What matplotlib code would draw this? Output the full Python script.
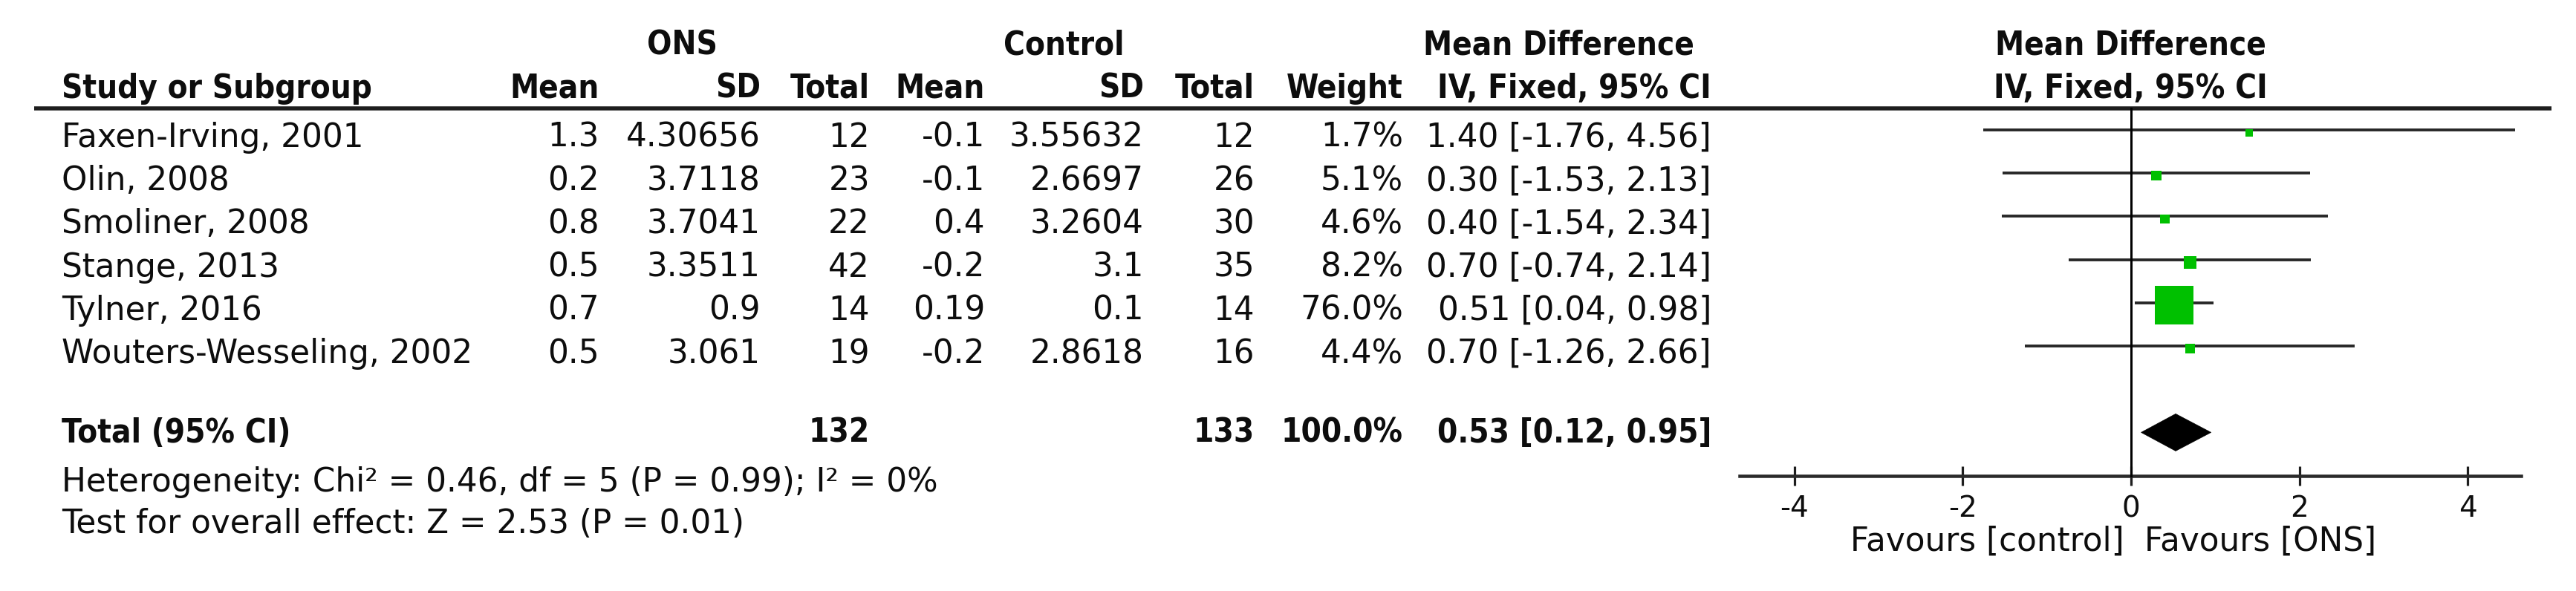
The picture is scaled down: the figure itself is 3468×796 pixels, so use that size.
import matplotlib
matplotlib.use("Agg")
import matplotlib.pyplot as plt
from matplotlib import font_manager as fm
from matplotlib.patches import Polygon
import numpy as np

# ---------------- data ----------------
studies = ["Faxen-Irving, 2001", "Olin, 2008", "Smoliner, 2008",
           "Stange, 2013", "Tylner, 2016", "Wouters-Wesseling, 2002"]
ons_mean = [1.3, 0.2, 0.8, 0.5, 0.7, 0.5]
ons_sd = [4.30656, 3.7118, 3.7041, 3.3511, 0.9, 3.061]
ons_total = [12, 23, 22, 42, 14, 19]
ctl_mean = [-0.1, -0.1, 0.4, -0.2, 0.19, -0.2]
ctl_sd = [3.55632, 2.6697, 3.2604, 3.1, 0.1, 2.8618]
ctl_total = [12, 26, 30, 35, 14, 16]
weight = [1.7, 5.1, 4.6, 8.2, 76.0, 4.4]
md = [1.40, 0.30, 0.40, 0.70, 0.51, 0.70]
md_lo = [-1.76, -1.53, -1.54, -0.74, 0.04, -1.26]
md_hi = [4.56, 2.13, 2.34, 2.14, 0.98, 2.66]

tot_ons = 132
tot_ctl = 133
tot_weight = 100.0
tot_md, tot_lo, tot_hi = 0.53, 0.12, 0.95
heterogeneity = "Heterogeneity: Chi\u00b2 = 0.46, df = 5 (P = 0.99); I\u00b2 = 0%"
overall = "Test for overall effect: Z = 2.53 (P = 0.01)"
xticks = [-4, -2, 0, 2, 4]
fav_left = "Favours [control]"
fav_right = "Favours [ONS]"

# ---------------- figure ----------------
plt.rcParams["axes.unicode_minus"] = False
W, H, DPI = 3468, 796, 100
PT = 72.0 / DPI  # px -> pt
fig = plt.figure(figsize=(W / DPI, H / DPI), dpi=DPI)
fig.patch.set_facecolor("white")

tab = fig.add_axes([0, 0, 1, 1])
tab.set_xlim(0, W)
tab.set_ylim(H, 0)
tab.axis("off")

FS = 31.5
reg = fm.FontProperties(family="DejaVu Sans", size=FS)
cond = [f.fname for f in fm.fontManager.ttflist
        if "DejaVuSansCondensed-Bold" in f.fname]
if cond:
    bold = fm.FontProperties(fname=cond[0], size=FS)
else:
    bold = fm.FontProperties(family="DejaVu Sans", weight="bold", size=FS * 0.88)

TXT = "#0d0d0d"


def t(x, y, s, ha="right", fp=reg, **kw):
    tab.text(x, y, s, ha=ha, va="baseline", fontproperties=fp, color=TXT, **kw)


# column right edges (px)
NAME_X = 83
C_OM, C_OSD, C_OT = 807, 1024, 1171
C_CM, C_CSD, C_CT = 1326, 1540, 1689
C_W, C_CI = 1889, 2304

# header rows
H1, H2 = 73, 132
t(918, H1, "ONS", ha="center", fp=bold)
t(1432, H1, "Control", ha="center", fp=bold)
t(2098, H1, "Mean Difference", ha="center", fp=bold)
t(2868, H1, "Mean Difference", ha="center", fp=bold)
t(NAME_X, H2, "Study or Subgroup", ha="left", fp=bold)
for x, s in [(C_OM, "Mean"), (C_OSD, "SD"), (C_OT, "Total"),
             (C_CM, "Mean"), (C_CSD, "SD"), (C_CT, "Total"),
             (C_W, "Weight"), (C_CI, "IV, Fixed, 95% CI")]:
    t(x, H2, s, fp=bold)
t(2868, H2, "IV, Fixed, 95% CI", ha="center", fp=bold)

tab.plot([46, 3435], [146, 146], color="#1e1e1e", lw=5.5 * PT, solid_capstyle="butt")

# study rows
ROW0, ROWH = 198, 58.2
for i, name in enumerate(studies):
    y = ROW0 + ROWH * i
    t(NAME_X, y, name, ha="left")
    t(C_OM, y, str(ons_mean[i]))
    t(C_OSD, y, str(ons_sd[i]))
    t(C_OT, y, str(ons_total[i]))
    t(C_CM, y, str(ctl_mean[i]))
    t(C_CSD, y, str(ctl_sd[i]))
    t(C_CT, y, str(ctl_total[i]))
    t(C_W, y, f"{weight[i]:.1f}%")
    t(C_CI, y, f"{md[i]:.2f} [{md_lo[i]:.2f}, {md_hi[i]:.2f}]")

# total row
YT = 596
t(NAME_X, YT, "Total (95% CI)", ha="left", fp=bold)
t(C_OT, YT, str(tot_ons), fp=bold)
t(C_CT, YT, str(tot_ctl), fp=bold)
t(C_W, YT, f"{tot_weight:.1f}%", fp=bold)
t(C_CI, YT, f"{tot_md:.2f} [{tot_lo:.2f}, {tot_hi:.2f}]", fp=bold)
t(NAME_X, 662, heterogeneity, ha="left")
t(NAME_X, 718, overall, ha="left")

# ---------------- forest plot ----------------
X0, PXU = 2869, 113.3      # zero position and px per unit
Y0, ROWP = 175, 58.2       # first row line and row pitch
fx = fig.add_axes([0, 0, 1, 1], facecolor="none")
fx.set_xlim(-X0 / PXU, (W - X0) / PXU)
fx.set_ylim((H - Y0) / ROWP, -Y0 / ROWP)

rows = np.arange(len(studies))
fx.hlines(rows, md_lo, md_hi, color="#262626", lw=3.8 * PT, zorder=2)
side = np.maximum(10, 52 * np.sqrt(np.array(weight) / max(weight)))
fx.scatter(md, rows + 3.5 / ROWP, s=(side * PT) ** 2, marker="s",
           color="#00C000", linewidths=0, zorder=3)

tot_row = len(studies) + 1
hh = 25 / ROWP
fx.add_patch(Polygon([[tot_lo, tot_row], [tot_md, tot_row - hh],
                      [tot_hi, tot_row], [tot_md, tot_row + hh]],
                     closed=True, facecolor="black", edgecolor="black", lw=0.5))

axis_row = tot_row + 1
fx.plot([0, 0], [-0.5, axis_row], color="black", lw=3 * PT, zorder=4)

for s in ["left", "right", "top"]:
    fx.spines[s].set_visible(False)
sp = fx.spines["bottom"]
sp.set_position(("data", axis_row))
sp.set_bounds(-4.65, 4.63)
sp.set_linewidth(4.5 * PT)
sp.set_color("#2a2a2a")
fx.set_xticks(xticks)
fx.set_xticklabels([str(v) for v in xticks])
fx.set_yticks([])
fx.tick_params(axis="x", direction="inout", length=26 * PT, width=3.2 * PT,
               color="#1e1e1e", labelsize=28, pad=9, labelcolor=TXT)

t(2860, 742, fav_left, ha="right")
t(2887, 742, fav_right, ha="left")

fig.savefig("out.png", dpi=DPI, facecolor="white")
